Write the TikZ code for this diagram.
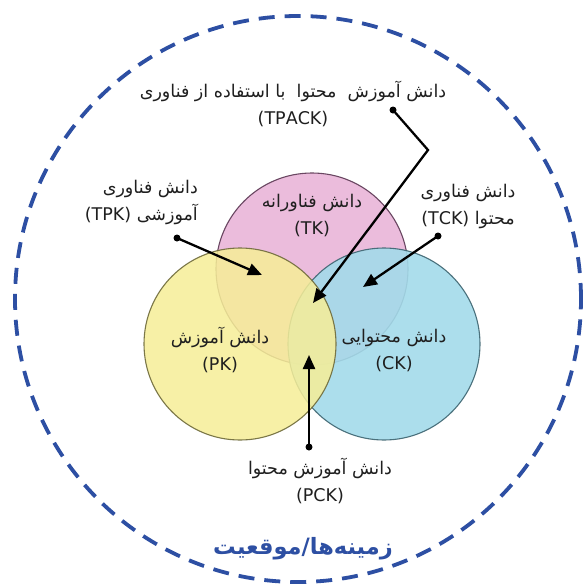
\documentclass[tikz,border=0pt]{standalone}
\usepackage{fontspec}
\setmainfont{DejaVu Sans}
\newfontfamily\fa[Script=Arabic]{DejaVu Sans}
\TeXXeTstate=1
\usetikzlibrary{arrows.meta}
\definecolor{ctx}{HTML}{2D4FA3}
\definecolor{pinkF}{HTML}{EBBCDC}
\definecolor{pinkD}{HTML}{6A4762}
\definecolor{yelF}{HTML}{F6EE98}
\definecolor{yelD}{HTML}{6E6A3A}
\definecolor{cyaF}{HTML}{A3DBEA}
\definecolor{cyaD}{HTML}{3D6470}
\newcommand\rtl[1]{\beginR#1\endR}
\newcommand\ltr[1]{\beginL#1\endL}
\tikzset{
  venn/.style={circle, inner sep=0pt, minimum size=192pt, line width=1.1pt},
  lbl/.style={font=\fa\fontsize{17.5}{27}\selectfont, text=black!88, inner sep=0pt},
  dotn/.style={circle, fill=black, inner sep=0pt, minimum size=7pt},
  ptr/.style={line width=2.3pt, -{Triangle[length=14pt,width=12pt]}},
  ln/.style={line width=2.3pt}
}
\begin{document}
\begin{tikzpicture}[x=1pt,y=-1pt]
\useasboundingbox (0,0) rectangle (583,587);
\fill[white] (0,0) rectangle (583,587);
% outer context circle
\draw[ctx, line width=3.8pt, dash pattern=on 16pt off 10pt] (298,299) circle [radius=283pt];
% venn circles
\node[venn, fill=pinkF, draw=pinkD] (TK) at (312,269) {};
\node[venn, fill=cyaF, draw=cyaD, fill opacity=0.9, draw opacity=0.9] (CK) at (384,344) {};
\node[venn, fill=yelF, draw=yelD, fill opacity=0.86, draw opacity=0.9] (PK) at (240,344) {};
% circle labels
\node[lbl, align=center] (tkl) at (312,216) {\rtl{دانش فناورانه}\\(TK)};
\node[lbl, align=center] (pkl) at (220,350) {\rtl{دانش آموزش}\\(PK)};
\node[lbl, align=center] (ckl) at (394,350) {\rtl{دانش محتوایی}\\(CK)};
% outer labels
\node[lbl, align=center] (tpackl) at (293,104) {\rtl{دانش آموزش\ \ محتوا\ \ با استفاده از فناوری}\\(TPACK)};
\node[lbl, align=right, anchor=east] (tpkl) at (198,202) {\rtl{دانش فناوری}\\\rtl{آموزشی \ltr{(TPK)}}};
\node[lbl, align=center] (tckl) at (468,206) {\rtl{دانش فناوری}\\\rtl{محتوا \ltr{(TCK)}}};
\node[lbl, align=center] (pckl) at (320,481) {\rtl{دانش آموزش محتوا}\\(PCK)};
\node[font=\fa\bfseries\fontsize{22.5}{26}\selectfont, text=ctx, inner sep=0pt] (ctxl) at (303,549) {\rtl{زمینه‌ها/موقعیت}};
% pointers
\node[dotn] (d1) at (393,110) {};
\coordinate (b1) at (428,150);
\coordinate (t1) at (313,303);
\draw[ptr] (d1.center) -- (b1) -- (t1);
\node[dotn] (d2) at (177,238) {};
\coordinate (t2) at (262,275);
\draw[ptr] (d2.center) -- (t2);
\node[dotn] (d3) at (438,236) {};
\coordinate (t3) at (363,287);
\draw[ptr] (d3.center) -- (t3);
\node[dotn] (d4) at (309,447) {};
\coordinate (t4) at (309,355);
\draw[ptr] (d4.center) -- (t4);
\end{tikzpicture}
\end{document}
